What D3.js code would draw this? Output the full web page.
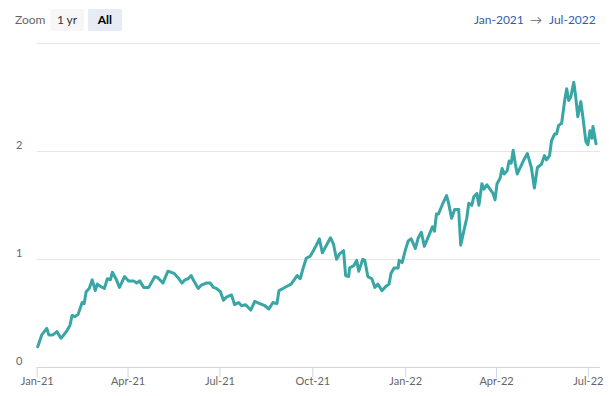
<!DOCTYPE html>
<html><head><meta charset="utf-8">
<script src="https://cdn.jsdelivr.net/npm/d3@7"></script>
<style>
html,body{margin:0;padding:0;background:#fff;}
svg{display:block;font-family:"Source Sans Pro","Lato","Noto Sans",sans-serif;}
</style></head>
<body><svg id="chart" width="609" height="396"></svg>
<script>
const dates = ["2021-01-02","2021-01-06","2021-01-11","2021-01-13","2021-01-17","2021-01-21","2021-01-25","2021-01-27","2021-01-31","2021-02-03","2021-02-05","2021-02-08","2021-02-11","2021-02-15","2021-02-17","2021-02-19","2021-02-22","2021-02-25","2021-02-28","2021-03-02","2021-03-05","2021-03-09","2021-03-12","2021-03-15","2021-03-17","2021-03-21","2021-03-24","2021-03-29","2021-04-02","2021-04-07","2021-04-10","2021-04-13","2021-04-17","2021-04-22","2021-04-28","2021-05-01","2021-05-06","2021-05-11","2021-05-17","2021-05-21","2021-05-25","2021-05-28","2021-05-31","2021-06-03","2021-06-05","2021-06-10","2021-06-13","2021-06-18","2021-06-22","2021-06-25","2021-06-28","2021-07-02","2021-07-05","2021-07-08","2021-07-13","2021-07-16","2021-07-20","2021-07-23","2021-07-27","2021-08-01","2021-08-05","2021-08-10","2021-08-15","2021-08-19","2021-08-23","2021-08-27","2021-08-29","2021-09-02","2021-09-06","2021-09-10","2021-09-13","2021-09-16","2021-09-19","2021-09-22","2021-09-25","2021-09-29","2021-10-02","2021-10-05","2021-10-08","2021-10-11","2021-10-15","2021-10-19","2021-10-22","2021-10-25","2021-10-28","2021-11-01","2021-11-03","2021-11-06","2021-11-07","2021-11-11","2021-11-14","2021-11-16","2021-11-20","2021-11-22","2021-11-25","2021-11-29","2021-12-02","2021-12-05","2021-12-09","2021-12-13","2021-12-16","2021-12-18","2021-12-21","2021-12-25","2021-12-26","2021-12-29","2022-01-01","2022-01-04","2022-01-07","2022-01-11","2022-01-14","2022-01-17","2022-01-20","2022-01-24","2022-01-28","2022-01-30","2022-02-01","2022-02-03","2022-02-07","2022-02-11","2022-02-13","2022-02-16","2022-02-19","2022-02-23","2022-02-25","2022-03-01","2022-03-03","2022-03-05","2022-03-08","2022-03-10","2022-03-13","2022-03-15","2022-03-18","2022-03-20","2022-03-23","2022-03-26","2022-03-29","2022-03-31","2022-04-02","2022-04-05","2022-04-07","2022-04-09","2022-04-12","2022-04-14","2022-04-16","2022-04-18","2022-04-20","2022-04-22","2022-04-26","2022-04-29","2022-05-02","2022-05-06","2022-05-09","2022-05-12","2022-05-16","2022-05-19","2022-05-21","2022-05-24","2022-05-26","2022-05-29","2022-05-31","2022-06-02","2022-06-05","2022-06-08","2022-06-10","2022-06-12","2022-06-14","2022-06-17","2022-06-19","2022-06-21","2022-06-24","2022-06-26","2022-06-29","2022-07-01","2022-07-03","2022-07-05","2022-07-06","2022-07-09"];
const values = [0.19,0.30,0.36,0.30,0.30,0.33,0.27,0.29,0.34,0.39,0.48,0.47,0.49,0.60,0.59,0.70,0.73,0.81,0.71,0.77,0.75,0.73,0.82,0.81,0.88,0.81,0.74,0.84,0.80,0.80,0.78,0.80,0.74,0.74,0.84,0.83,0.78,0.89,0.87,0.83,0.78,0.81,0.82,0.85,0.81,0.73,0.76,0.78,0.78,0.74,0.73,0.70,0.62,0.65,0.67,0.58,0.60,0.57,0.58,0.53,0.61,0.59,0.57,0.54,0.60,0.59,0.71,0.73,0.75,0.77,0.81,0.85,0.82,0.92,1.01,1.03,1.08,1.13,1.19,1.06,1.13,1.20,1.14,1.00,1.05,1.08,0.85,0.84,0.92,0.94,0.99,0.89,1.00,0.99,0.84,0.82,0.74,0.77,0.71,0.75,0.77,0.87,0.92,0.92,0.99,0.97,1.08,1.17,1.19,1.10,1.20,1.25,1.12,1.21,1.30,1.26,1.42,1.42,1.51,1.59,1.52,1.38,1.46,1.46,1.13,1.30,1.38,1.52,1.50,1.58,1.61,1.50,1.70,1.65,1.69,1.65,1.61,1.55,1.70,1.75,1.84,1.79,1.82,1.91,1.89,2.01,1.89,1.79,1.87,1.93,1.98,1.85,1.66,1.85,1.88,1.96,1.92,1.96,2.10,2.16,2.16,2.24,2.26,2.47,2.58,2.47,2.50,2.64,2.50,2.32,2.46,2.32,2.09,2.06,2.19,2.12,2.23,2.07];
const xTickDates = ["2021-01-01","2021-04-01","2021-07-01","2021-10-01","2022-01-01","2022-04-01","2022-07-01"];
const yTicks = [0,1,2,3];
const yLabels = ["0","1","2",""];
const zoomButtons = ["1 yr","All"];
const rangeFrom = "Jan-2021", rangeTo = "Jul-2022";

const parse = d3.utcParse("%Y-%m-%d");
const data = dates.map((d,i)=>({date:parse(d), value:values[i]}));
const svg = d3.select("#chart");
const plotLeft = 36.7, plotRight = 600;
const x = d3.scaleUtc().domain([parse(xTickDates[0]), parse(xTickDates[xTickDates.length-1])]).range([36.7, 587.9]);
const y = d3.scaleLinear().domain([0,3]).range([367.3, 43.3]);

// gridlines
svg.append("g").selectAll("line").data(yTicks.slice(1)).join("line")
  .attr("x1", plotLeft).attr("x2", plotRight)
  .attr("y1", d=>Math.round(y(d))+0.5).attr("y2", d=>Math.round(y(d))+0.5)
  .attr("stroke","#e6e6e6").attr("stroke-width",1);

// y labels
svg.append("g").selectAll("text").data(yTicks).join("text")
  .attr("x", 16).attr("y", d=>y(d)-2)
  .attr("font-size", 11).attr("fill", "#666")
  .text((d,i)=>yLabels[i]);

// x axis
const xAxis = d3.axisBottom(x).tickValues(xTickDates.map(parse)).tickFormat(d3.utcFormat("%b-%y")).tickSizeOuter(0).tickSize(10);
const gx = svg.append("g").attr("transform", `translate(0,${Math.round(y(0))+0.5})`).call(xAxis);
gx.select(".domain").remove();
gx.append("line").attr("x1", plotLeft).attr("x2", plotRight).attr("stroke","#ccd6eb");
gx.selectAll(".tick line").attr("stroke","#ccd6eb");
gx.selectAll(".tick text").attr("fill","#666").attr("font-size",11).attr("dy","0.71em").attr("y",10)
  .style("font-family",'"Source Sans Pro","Lato","Noto Sans",sans-serif');

// line
const line = d3.line().x(d=>x(d.date)).y(d=>y(d.value)).curve(d3.curveLinear);
svg.append("path").datum(data).attr("d", line)
  .attr("fill","none").attr("stroke","#38a6a5").attr("stroke-width",3)
  .attr("stroke-linejoin","round").attr("stroke-linecap","round");

// zoom buttons
const header = svg.append("g");
header.append("text").attr("x",15).attr("y",24).attr("font-size",12).attr("fill","#666").text("Zoom");
const bx = d3.scaleBand().domain(zoomButtons).range([50,122]).paddingInner(0.1);
const btn = header.selectAll("g.btn").data(zoomButtons).join("g").attr("class","btn")
  .attr("transform", d=>`translate(${bx(d)},9)`);
btn.append("rect").attr("width", bx.bandwidth()).attr("height",22).attr("rx",2)
  .attr("fill", d=> d==="All" ? "#e6ebf5" : "#f7f7f7");
btn.append("text").attr("x", bx.bandwidth()/2).attr("y",15).attr("text-anchor","middle")
  .attr("font-size",12).attr("fill", d=> d==="All" ? "#000" : "#333")
  .attr("font-weight", d=> d==="All" ? "bold" : "normal").text(d=>d);

// range display
header.append("text").attr("x",474).attr("y",24).attr("font-size",12).attr("fill","#335cad").text(rangeFrom);
header.append("text").attr("x",530).attr("y",24).attr("font-size",12).attr("fill","#666").text("\u2192");
header.append("text").attr("x",549).attr("y",24).attr("font-size",12).attr("fill","#335cad").text(rangeTo);
</script></body></html>
